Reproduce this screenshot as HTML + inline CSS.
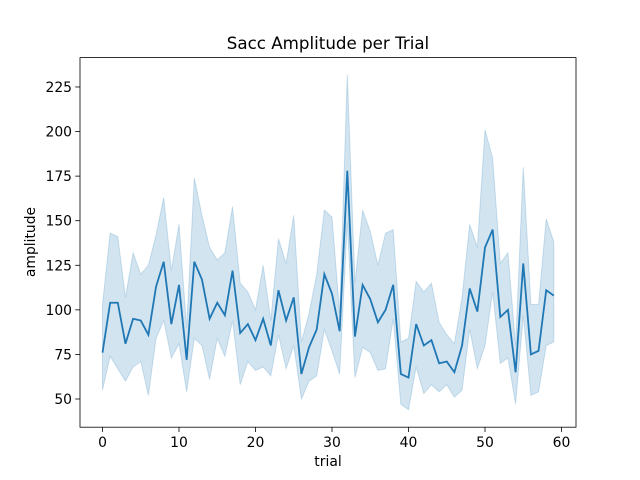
<!DOCTYPE html>
<html><head><meta charset="utf-8"><style>
body{margin:0;background:#fff;}
svg{display:block;font-family:"DejaVu Sans","Liberation Sans",sans-serif;}
</style></head><body>
<svg id="chart" width="640" height="480" viewBox="0 0 640 480">
<rect width="640" height="480" fill="#fff"/>
<g id="plot"></g>
<rect x="80" y="57.6" width="496" height="369.6" fill="none" stroke="#000" stroke-width="0.8"/>
<g id="xt"></g>
<g id="yt"></g>
<text x="328" y="49" text-anchor="middle" font-size="16.7">Sacc Amplitude per Trial</text>
<text x="328" y="466" text-anchor="middle" font-size="13.9">trial</text>
<text x="0" y="0" transform="translate(35,242) rotate(-90)" text-anchor="middle" font-size="13.9">amplitude</text>
</svg>
<script>
const meanVals=[76,104,104,81,95,94,86,113,127,92,114,72,127,117,95,104,97,122,87,92,83,95,80,111,94,107,64,79,89,120,109,88,178,85,114,106,93,100,114,64,62,92,80,83,70,71,65,80,112,99,135,145,96,100,65,126,75,77,111,108];
const upperVals=[103,143,141,107,132,120,125,142,163,122,148,90,174,153,135,128,132,158,115,110,100,125,94,140,126,153,82,98,120,156,152,98,232,115,156,144,125,143,145,82,84,116,110,115,93,86,81,107,148,135,201,185,126,132,80,180,103,103,151,138];
const lowerVals=[55,74,67,60,68,71,52,84,94,73,81,54,84,80,61,84,74,94,58,71,66,68,63,86,67,80,50,60,63,89,77,64,149,62,79,76,66,67,95,47,44,68,53,58,54,58,51,55,89,67,80,110,70,73,47,97,52,54,80,82];
const xTicks=[0,10,20,30,40,50,60];
const yTicks=[50,75,100,125,150,175,200,225];
const NS="http://www.w3.org/2000/svg";
const X=v=>102.5+v*7.65;
const Y=v=>399-(v-50)*1.783;
const plot=document.getElementById('plot');
let d='';
upperVals.forEach((v,i)=>{d+=(i?'L':'M')+X(i)+','+Y(v);});
for(let i=lowerVals.length-1;i>=0;i--)d+='L'+X(i)+','+Y(lowerVals[i]);
d+='Z';
const band=document.createElementNS(NS,'path');
band.setAttribute('d',d);band.setAttribute('fill','#1f77b4');band.setAttribute('fill-opacity','0.2');
band.setAttribute('stroke','#1f77b4');band.setAttribute('stroke-opacity','0.2');


plot.appendChild(band);
const line=document.createElementNS(NS,'path');
line.setAttribute('d',meanVals.map((v,i)=>(i?'L':'M')+X(i)+','+Y(v)).join(''));
line.setAttribute('fill','none');line.setAttribute('stroke','#1f77b4');line.setAttribute('stroke-width','1.8');


plot.appendChild(line);
const xt=document.getElementById('xt');
xTicks.forEach(t=>{
 const l=document.createElementNS(NS,'line');
 l.setAttribute('x1',X(t));l.setAttribute('x2',X(t));l.setAttribute('y1',427.2);l.setAttribute('y2',432);l.setAttribute('stroke','#000');l.setAttribute('stroke-width','0.8');
 
 
 xt.appendChild(l);
 const tx=document.createElementNS(NS,'text');
 tx.setAttribute('x',X(t));tx.setAttribute('y',447);tx.setAttribute('text-anchor','middle');tx.setAttribute('font-size','13.9');
 tx.textContent=t;
 
 
 xt.appendChild(tx);
});
const yt=document.getElementById('yt');
yTicks.forEach(t=>{
 const l=document.createElementNS(NS,'line');
 l.setAttribute('x1',75.2);l.setAttribute('x2',80);l.setAttribute('y1',Y(t));l.setAttribute('y2',Y(t));l.setAttribute('stroke','#000');l.setAttribute('stroke-width','0.8');
 
 
 yt.appendChild(l);
 const tx=document.createElementNS(NS,'text');
 tx.setAttribute('x',72);tx.setAttribute('y',Y(t)+5);tx.setAttribute('text-anchor','end');tx.setAttribute('font-size','13.9');
 tx.textContent=t;
 
 
 yt.appendChild(tx);
});
</script>
</body></html>
